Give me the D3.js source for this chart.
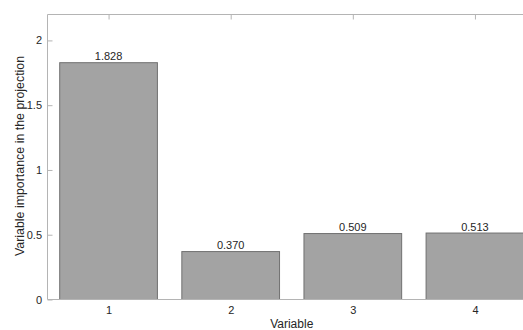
<!DOCTYPE html>
<html>
<head>
<meta charset="utf-8">
<script src="https://cdn.jsdelivr.net/npm/d3@7"></script>
<style>
  html, body { margin: 0; padding: 0; background: #fff; }
  svg { display: block; font-family: "Liberation Sans", Arial, sans-serif; }
</style>
</head>
<body>
<div id="chart"></div>
<script>
// Variable importance values, one bar per variable
const variables = [1, 2, 3, 4];
const importance = [1.828, 0.370, 0.509, 0.513];
const valueLabels = ["1.828", "0.370", "0.509", "0.513"];
const yTicks = [0, 0.5, 1, 1.5, 2];
const yTickLabels = ["0", "0.5", "1", "1.5", "2"];

const width = 523, height = 330;
const plotLeft = 47.5, plotTop = 14.5, plotBottom = 299.5;
const plotRight = 536;   // axes box continues past the page edge

const svg = d3.select("#chart").append("svg")
  .attr("width", width).attr("height", height);

const x = d3.scaleLinear().domain([0.5, 4.5]).range([plotLeft, plotRight]);
const y = d3.scaleLinear().domain([0, 2.2]).range([plotBottom, plotTop]);
const barW = (x(1.4) - x(0.6));

const textColor = "#262626";
const axisColor = "#b4b4b4";
const fontFamily = "Liberation Sans, Arial, sans-serif";

// Bars
svg.append("g").selectAll("rect")
  .data(variables)
  .join("rect")
  .attr("x", (d) => x(d) - barW / 2)
  .attr("y", (d, i) => y(importance[i]))
  .attr("width", barW)
  .attr("height", (d, i) => y(0) - y(importance[i]))
  .attr("fill", "#a3a3a3")
  .attr("stroke", "#707070")
  .attr("stroke-width", 1);

// Value labels above bars
svg.append("g").selectAll("text")
  .data(variables)
  .join("text")
  .attr("x", (d) => x(d))
  .attr("y", (d, i) => y(importance[i]) - 2.5)
  .attr("text-anchor", "middle")
  .attr("font-size", 11)
  .attr("fill", textColor)
  .text((d, i) => valueLabels[i]);

// Axes box lines
const box = svg.append("g").attr("stroke", axisColor).attr("fill", "none");
box.append("line").attr("x1", plotLeft).attr("x2", plotRight).attr("y1", plotTop).attr("y2", plotTop);
box.append("line").attr("x1", plotLeft).attr("x2", plotLeft).attr("y1", plotTop).attr("y2", plotBottom);
box.append("line").attr("x1", plotLeft).attr("x2", plotRight).attr("y1", plotBottom).attr("y2", plotBottom);

// Left axis (ticks pointing inward)
const yAxis = d3.axisLeft(y).tickValues(yTicks)
  .tickFormat((d, i) => yTickLabels[i])
  .tickSizeInner(-5).tickSizeOuter(0).tickPadding(5.5);
const gy = svg.append("g").attr("transform", `translate(${plotLeft},0)`).call(yAxis);
gy.select(".domain").remove();
gy.selectAll(".tick line").attr("stroke", axisColor);
gy.selectAll(".tick text").attr("fill", textColor).attr("font-size", 11)
  .attr("font-family", fontFamily);

// Bottom axis labels
const xAxis = d3.axisBottom(x).tickValues(variables)
  .tickFormat(d3.format("d"))
  .tickSizeInner(0).tickSizeOuter(0).tickPadding(7);
const gx = svg.append("g").attr("transform", `translate(0,${plotBottom})`).call(xAxis);
gx.select(".domain").remove();
gx.selectAll(".tick text").attr("fill", textColor).attr("font-size", 11)
  .attr("font-family", fontFamily);

// Top axis ticks pointing inward
const xTop = d3.axisTop(x).tickValues(variables).tickFormat("")
  .tickSizeInner(-5).tickSizeOuter(0);
const gt = svg.append("g").attr("transform", `translate(0,${plotTop})`).call(xTop);
gt.select(".domain").remove();
gt.selectAll(".tick line").attr("stroke", axisColor);

// Axis titles
svg.append("text")
  .attr("x", (plotLeft + plotRight) / 2).attr("y", 327.5)
  .attr("text-anchor", "middle").attr("font-size", 12).attr("fill", textColor)
  .text("Variable");

svg.append("text")
  .attr("transform", `translate(24,156) rotate(-90)`)
  .attr("text-anchor", "middle").attr("font-size", 12.4).attr("fill", textColor)
  .text("Variable importance in the projection");
</script>
</body>
</html>
